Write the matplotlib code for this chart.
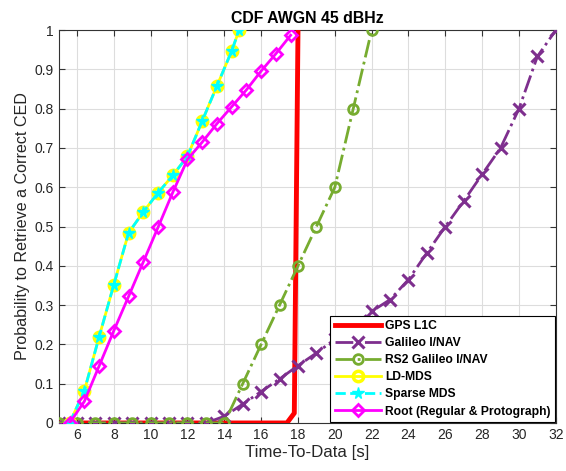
import matplotlib
matplotlib.use("Agg")
import matplotlib.pyplot as plt
import numpy as np

plt.rcParams['font.family'] = ['Liberation Sans', 'DejaVu Sans']

gps_x = [5, 17.4, 17.8, 18.0]
gps_y = [0, 0, 0.025, 1.0]

gal_x = list(range(5, 33))
gal_y = [0, 0, 0, 0, 0, 0, 0, 0, 0, 0.017, 0.048, 0.08, 0.112, 0.146, 0.178,
         0.213, 0.247, 0.284, 0.314, 0.365, 0.433, 0.50, 0.565, 0.633, 0.70,
         0.80, 0.933, 1.0]

rs2_x = list(range(5, 23))
rs2_y = [0, 0, 0, 0, 0, 0, 0, 0, 0, 0, 0.10, 0.20, 0.30, 0.40, 0.50, 0.60, 0.80, 1.0]

ld_x = [5.6, 6.4, 7.2, 8.0, 8.8, 9.6, 10.4, 11.2, 12.0, 12.8, 13.6, 14.4, 14.8]
ld_y = [0, 0.082, 0.219, 0.352, 0.484, 0.537, 0.586, 0.63, 0.679, 0.769, 0.858, 0.947, 1.0]

sp_x = [5.6, 6.4, 7.2, 8.0, 8.8, 9.6, 10.4, 11.2, 12.0, 12.8, 13.6, 14.4, 14.8]
sp_y = [0, 0.082, 0.219, 0.352, 0.484, 0.537, 0.586, 0.63, 0.679, 0.769, 0.858, 0.947, 1.0]

root_x = [5.6, 6.4, 7.2, 8.0, 8.8, 9.6, 10.4, 11.2, 12.0, 12.8, 13.6, 14.4, 15.2, 16.0, 16.8, 17.6]
root_y = [0, 0.055, 0.145, 0.235, 0.322, 0.41, 0.498, 0.587, 0.671, 0.715, 0.762,
          0.805, 0.848, 0.896, 0.94, 0.987]

x_ticks = list(range(6, 33, 2))
y_ticks = [round(0.1 * i, 1) for i in range(11)]
y_tick_labels = ['0', '0.1', '0.2', '0.3', '0.4', '0.5', '0.6', '0.7', '0.8', '0.9', '1']

fig = plt.figure(figsize=(5.66, 4.71), dpi=100)
ax = fig.add_axes([0.1035, 0.102, 0.8785, 0.834])

ax.plot(gps_x, gps_y, color='#FF0000', lw=3.5, ls='-', label='GPS L1C', zorder=3)
ax.plot(gal_x, gal_y, color='#7E2F8E', lw=2, ls='-.', marker='x', ms=8, mew=2.2,
        label='Galileo I/NAV', zorder=4)
ax.plot(rs2_x, rs2_y, color='#77AC30', lw=2, ls='-.', marker='o', ms=7, mew=2,
        mfc='none', label='RS2 Galileo I/NAV', zorder=4)
ax.plot(ld_x, ld_y, color='#FFFF00', lw=2, ls='-', marker='o', ms=7.5, mew=2.5,
        mfc='none', label='LD-MDS', zorder=5)
ax.plot(sp_x, sp_y, color='#00FFFF', lw=2, ls='--', marker='*', ms=8.5, mew=1,
        label='Sparse MDS', zorder=6)
ax.plot(root_x, root_y, color='#FF00FF', lw=2, ls='-', marker='D', ms=6.5, mew=2,
        mfc='none', label='Root (Regular & Protograph)', zorder=7)

ax.set_xlim(5, 32)
ax.set_ylim(0, 1)
ax.set_xticks(x_ticks)
ax.set_yticks(y_ticks)
ax.set_yticklabels(y_tick_labels)
ax.grid(True, color='#DDDDDD', lw=0.8)
ax.set_axisbelow(True)
ax.tick_params(direction='in', top=True, right=True, labelsize=10, length=4,
               color='#333333', labelcolor='#262626')
for s in ax.spines.values():
    s.set_color('#333333')
    s.set_linewidth(0.8)

ax.set_title('CDF AWGN 45 dBHz', fontsize=11.4, fontweight='bold', pad=5)
ax.set_xlabel('Time-To-Data [s]', fontsize=12.2, labelpad=2, color='#262626')
ax.set_ylabel('Probability to Retrieve a Correct CED', fontsize=11.6, labelpad=3,
              color='#262626')

leg = ax.legend(loc='lower right', prop={'weight': 'bold', 'size': 8.7},
                frameon=True, fancybox=False, edgecolor='black', framealpha=1,
                borderpad=0.35, labelspacing=0.42, handlelength=3.8, handletextpad=0.35,
                borderaxespad=0.1)
leg.get_frame().set_linewidth(0.8)

fig.savefig('out.png', dpi=100)
